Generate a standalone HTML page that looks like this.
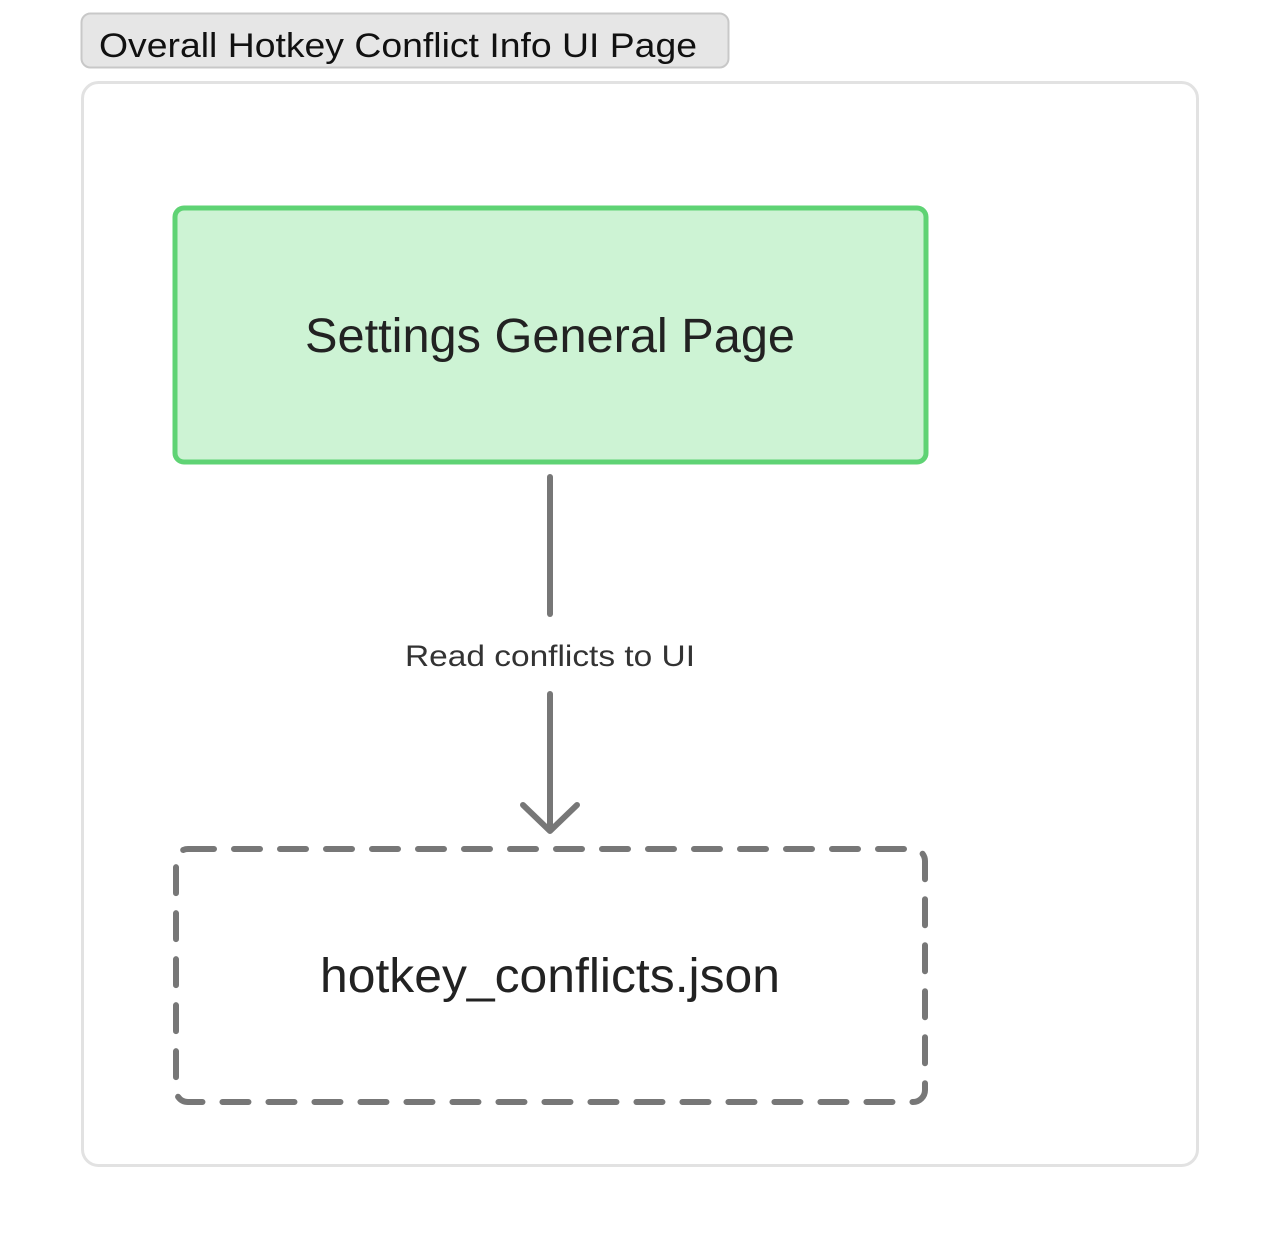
<!DOCTYPE html>
<html><head><meta charset="utf-8"><style>
body{margin:0;background:#fff;width:1280px;height:1248px;overflow:hidden;font-family:"Liberation Sans",sans-serif;}
</style></head><body>
<svg width="1280" height="1248" xmlns="http://www.w3.org/2000/svg" style="position:absolute;left:0;top:0">
<rect x="81.5" y="13.5" width="647" height="54" rx="9" fill="#e6e6e6" stroke="#c8c8c8" stroke-width="2"/>
<text x="99" y="57" font-family="Liberation Sans, sans-serif" font-size="34" fill="#111" textLength="598" lengthAdjust="spacingAndGlyphs">Overall Hotkey Conflict Info UI Page</text>
<rect x="82.5" y="82.5" width="1115" height="1083" rx="16" fill="#fff" stroke="#e2e2e2" stroke-width="3"/>
<rect x="175" y="208" width="751" height="254" rx="9" fill="#cdf3d4" stroke="#5fd374" stroke-width="5"/>
<text x="550" y="352" text-anchor="middle" font-family="Liberation Sans, sans-serif" font-size="48" fill="#222" textLength="490" lengthAdjust="spacingAndGlyphs">Settings General Page</text>
<line x1="550" y1="477" x2="550" y2="614" stroke="#777" stroke-width="6" stroke-linecap="round"/>
<text x="550" y="666" text-anchor="middle" font-family="Liberation Sans, sans-serif" font-size="30" fill="#333" textLength="290" lengthAdjust="spacingAndGlyphs">Read conflicts to UI</text>
<line x1="550" y1="694" x2="550" y2="830" stroke="#777" stroke-width="6" stroke-linecap="round"/>
<polyline points="523,805 550,831 577,805" fill="none" stroke="#777" stroke-width="6" stroke-linecap="round" stroke-linejoin="round"/>
<rect x="176" y="849" width="749" height="253" rx="12" fill="none" stroke="#777" stroke-width="6" stroke-dasharray="26 20" stroke-linecap="round"/>
<text x="550" y="992" text-anchor="middle" font-family="Liberation Sans, sans-serif" font-size="48" fill="#222" textLength="460" lengthAdjust="spacingAndGlyphs">hotkey_conflicts.json</text>
</svg>
</body></html>
